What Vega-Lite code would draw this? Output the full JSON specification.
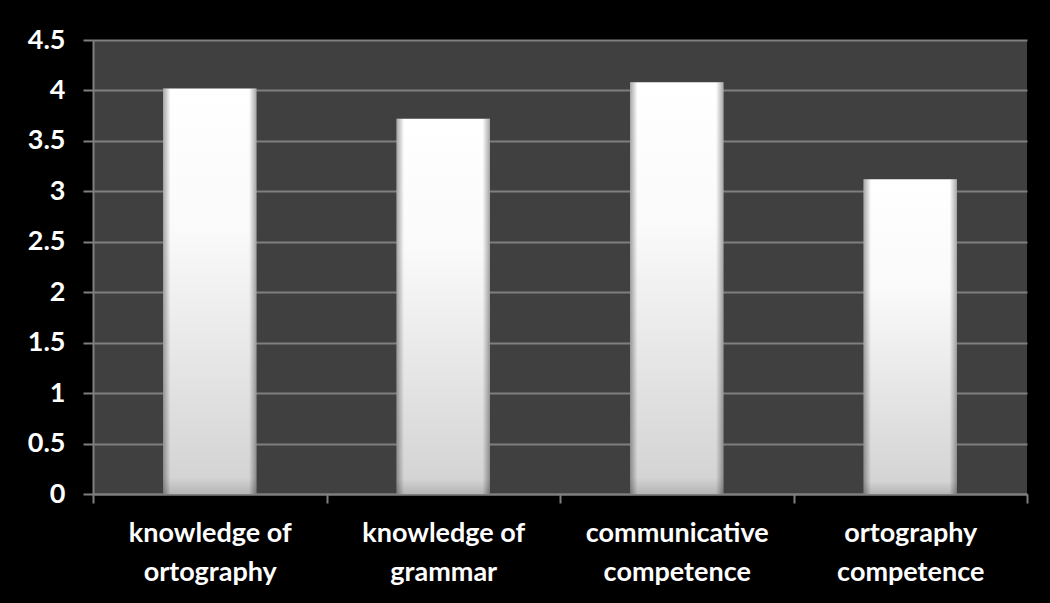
{
  "$schema": "https://vega.github.io/schema/vega-lite/v6.json",
  "width": 934,
  "height": 454,
  "autosize": {"type": "none"},
  "padding": {"left": 93, "top": 40, "right": 23, "bottom": 109},
  "background": "#000000",
  "data": {
    "values": [
      {"skill": "knowledge of ortography", "score": 4.02},
      {"skill": "knowledge of grammar", "score": 3.72},
      {"skill": "communicative competence", "score": 4.08},
      {"skill": "ortography competence", "score": 3.12}
    ]
  },
  "encoding": {
    "x": {
      "field": "skill",
      "type": "nominal",
      "sort": null,
      "scale": {"paddingInner": 0, "paddingOuter": 0},
      "axis": {
        "title": null,
        "tickBand": "extent",
        "labelAngle": 0,
        "labelExpr": "[slice(datum.label, 0, lastindexof(datum.label, ' ')), slice(datum.label, lastindexof(datum.label, ' ') + 1)]",
        "labelFont": "Lato",
        "labelFontWeight": "bold",
        "labelFontSize": 27,
        "labelColor": "#ffffff",
        "labelLineHeight": 39,
        "labelPadding": 17,
        "labelBaseline": "top",
        "labelLimit": 400,
        "tickSize": 9,
        "tickColor": "#7f7f7f",
        "tickWidth": 2,
        "domainColor": "#7f7f7f",
        "domainWidth": 2,
        "grid": false
      }
    },
    "y": {
      "field": "score",
      "type": "quantitative",
      "scale": {"domain": [0, 4.5], "nice": false},
      "axis": {
        "title": null,
        "values": [0, 0.5, 1, 1.5, 2, 2.5, 3, 3.5, 4, 4.5],
        "format": ".1~f",
        "labelFont": "Lato",
        "labelFontWeight": "bold",
        "labelFontSize": 27,
        "labelColor": "#ffffff",
        "labelPadding": 18,
        "tickSize": 10,
        "tickColor": "#7f7f7f",
        "tickWidth": 2,
        "domainColor": "#7f7f7f",
        "domainWidth": 2,
        "grid": true,
        "gridColor": "#7f7f7f",
        "gridWidth": 2
      }
    }
  },
  "layer": [
    {
      "mark": {
        "type": "bar",
        "width": {"band": 0.4},
        "fill": {
          "gradient": "linear",
          "x1": 0, "y1": 0, "x2": 0, "y2": 1,
          "stops": [
            {"offset": 0, "color": "#ffffff"},
            {"offset": 0.35, "color": "#fafafa"},
            {"offset": 0.96, "color": "#d4d4d4"},
            {"offset": 1, "color": "#b4b4b4"}
          ]
        }
      }
    },
    {
      "mark": {
        "type": "bar",
        "width": {"band": 0.4},
        "fill": {
          "gradient": "linear",
          "x1": 0, "y1": 0, "x2": 1, "y2": 0,
          "stops": [
            {"offset": 0, "color": "rgba(0,0,0,0.35)"},
            {"offset": 0.08, "color": "rgba(0,0,0,0)"},
            {"offset": 0.92, "color": "rgba(0,0,0,0)"},
            {"offset": 1, "color": "rgba(0,0,0,0.35)"}
          ]
        }
      }
    }
  ],
  "config": {
    "view": {"fill": "#404040", "stroke": null}
  }
}
